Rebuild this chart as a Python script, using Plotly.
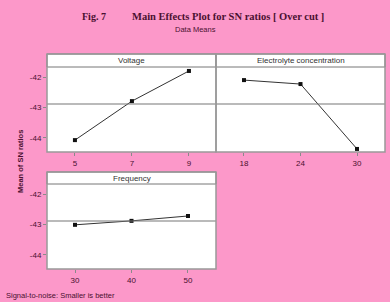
import plotly.graph_objects as go

# ---- data ----
voltage_levels = [5, 7, 9]
voltage_sn = [-44.07, -42.79, -41.80]
electrolyte_levels = [18, 24, 30]
electrolyte_sn = [-42.10, -42.23, -44.36]
frequency_levels = [30, 40, 50]
frequency_sn = [-43.01, -42.88, -42.72]
y_ticks = [-42, -43, -44]
y_tick_labels = ["-42", "-43", "-44"]
panel_titles = ["Voltage", "Electrolyte concentration", "Frequency"]

W, H = 390, 302
BG = "#FC98C9"
TXT = "#4a1030"
GRID = "#8a8a8a"

def px(x):
    return x / W

def py(y):
    return 1 - y / H

# panel geometry in pixels: (left, right, header_top, header_bottom, bottom)
panels = [
    (47, 216, 54, 67, 152),
    (216, 385, 54, 67, 152),
    (47, 216, 172, 184, 269),
]
xranges = [[4.02, 9.95], [15.03, 32.97], [25.04, 54.96]]
yrange = [-44.46, -41.67]

series = [
    (voltage_levels, voltage_sn),
    (electrolyte_levels, electrolyte_sn),
    (frequency_levels, frequency_sn),
]

all_mean = sum(voltage_sn + electrolyte_sn + frequency_sn) / 9

fig = go.Figure()
shapes = []
annotations = []
for i, ((xs, ys), (l, r, ht, hb, b)) in enumerate(zip(series, panels)):
    n = "" if i == 0 else str(i + 1)
    fig.add_trace(go.Scatter(
        x=xs, y=ys, mode="lines+markers",
        line=dict(color="#333333", width=1),
        marker=dict(symbol="square", size=4, color="#111111"),
        xaxis="x" + n, yaxis="y" + n, showlegend=False, hoverinfo="skip"))
    show_y = i != 1
    fig.update_layout(**{
        "xaxis" + n: dict(
            domain=[px(l), px(r)], range=xranges[i], anchor="y" + n,
            tickvals=xs, ticktext=[str(v) for v in xs],
            ticks="outside", ticklen=3, tickcolor=GRID,
            tickfont=dict(size=8, color=TXT, family="Arial"),
            showgrid=False, zeroline=False, showline=False),
        "yaxis" + n: dict(
            domain=[py(b), py(hb)], range=yrange, anchor="x" + n,
            tickvals=y_ticks if show_y else [], ticktext=y_tick_labels if show_y else [],
            ticks="outside" if show_y else "", ticklen=3, tickcolor=GRID,
            tickfont=dict(size=8, color=TXT, family="Arial"),
            showgrid=False, zeroline=False, showline=False),
    })
    # reference line at grand mean
    shapes.append(dict(type="line", xref="x" + n + " domain", yref="y" + n,
                       x0=0, x1=1, y0=all_mean, y1=all_mean,
                       line=dict(color="#777777", width=1.2)))
    # panel border incl. header
    shapes.append(dict(type="rect", xref="paper", yref="paper",
                       x0=px(l), x1=px(r), y0=py(b), y1=py(ht),
                       line=dict(color="#999999", width=1.5), layer="above"))
    shapes.append(dict(type="rect", xref="paper", yref="paper",
                       x0=px(l), x1=px(r), y0=py(hb), y1=py(ht),
                       fillcolor="white", line=dict(color="#777777", width=1), layer="below"))
    annotations.append(dict(text=panel_titles[i], xref="paper", yref="paper",
                            x=(px(l) + px(r)) / 2, y=(py(ht) + py(hb)) / 2,
                            showarrow=False, font=dict(size=8, color="#333333", family="Arial"),
                            xanchor="center", yanchor="middle"))

annotations += [
    dict(text="<b>Fig. 7</b>", xref="paper", yref="paper", x=px(80), y=py(17),
         xanchor="left", yanchor="middle", showarrow=False,
         font=dict(size=10, color=TXT, family="Liberation Serif")),
    dict(text="<b>Main Effects Plot for SN ratios [ Over cut ]</b>", xref="paper", yref="paper",
         x=px(130), y=py(17), xanchor="left", yanchor="middle", showarrow=False,
         font=dict(size=10.5, color=TXT, family="Liberation Serif")),
    dict(text="Data Means", xref="paper", yref="paper", x=px(195), y=py(29),
         xanchor="center", yanchor="middle", showarrow=False,
         font=dict(size=7.5, color=TXT, family="Arial")),
    dict(text="<b>Mean of SN ratios</b>", xref="paper", yref="paper", x=px(20), y=py(162),
         xanchor="center", yanchor="middle", showarrow=False, textangle=-90,
         font=dict(size=7.5, color=TXT, family="Arial")),
    dict(text="Signal-to-noise: Smaller is better", xref="paper", yref="paper",
         x=px(4), y=py(295), xanchor="left", yanchor="middle", showarrow=False,
         font=dict(size=7.5, color=TXT, family="Arial")),
]

fig.update_layout(
    width=W, height=H, margin=dict(l=0, r=0, t=0, b=0),
    paper_bgcolor=BG, plot_bgcolor="white",
    shapes=shapes, annotations=annotations, showlegend=False)

fig.write_html(
    "out.html",
    config={"displayModeBar": False, "staticPlot": True},
    post_script="document.body.style.margin='0';document.body.style.overflow='hidden';"
                "document.body.style.background='" + BG + "';")
